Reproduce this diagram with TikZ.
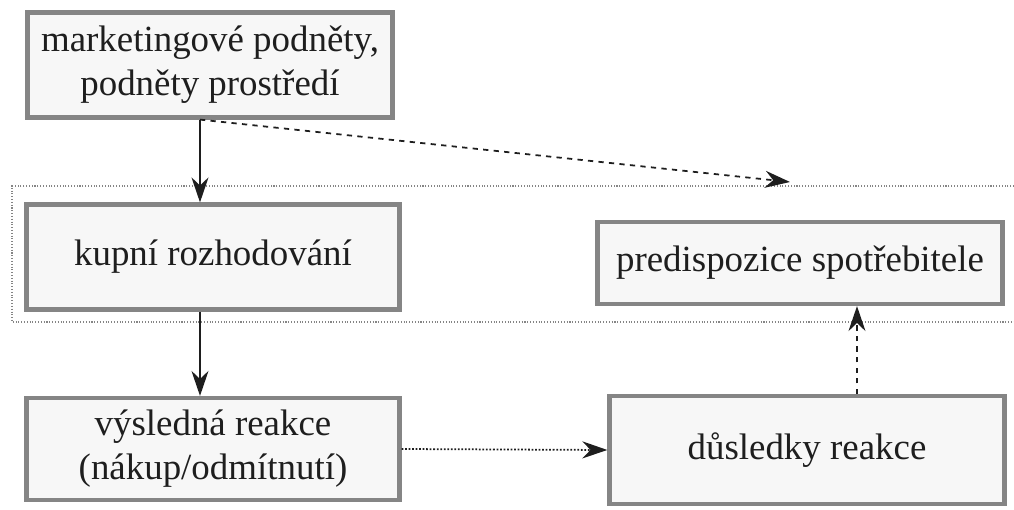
\documentclass[tikz,border=0pt]{standalone}
\usepackage{fontspec}
\setmainfont{Liberation Serif}
\usetikzlibrary{arrows.meta, positioning}
\definecolor{rim}{HTML}{858585}
\definecolor{ink}{HTML}{1E1E1E}

\begin{document}
\begin{tikzpicture}[x=0.2mm, y=-0.2mm,
    every node/.style={font=\fontsize{21}{25}\selectfont, text=ink},
    box/.style={draw=rim, line width=2.4pt, fill=gray!6, align=center, inner sep=2pt},
    flow/.style={draw=ink, line width=1pt, -{Stealth[length=5mm, width=3.4mm]}},
    maybe/.style={flow, dashed},
    weak/.style={flow, densely dotted}]

\useasboundingbox (0,0) rectangle (1014,510);

% boxes
\node[box, minimum width=73mm, minimum height=21mm] (stimuli) at (210,65) {marketingové podněty,\\podněty prostředí};
\node[box, minimum width=74.6mm, minimum height=21mm] (decision) at (213,257) {kupní rozhodování};
\node[box, minimum width=81mm, minimum height=16.4mm] (predisp) at (800,263) {predispozice spotřebitele};
\node[box, minimum width=74.6mm, minimum height=20.4mm] (response) at (213,449) {výsledná reakce\\(nákup/odmítnutí)};
\node[box, minimum width=79mm, minimum height=21.6mm] (effects) at (807,450) {důsledky reakce};

% dotted frame round the middle row
\draw[rim, densely dotted, line width=0.6pt] (1014,186) -- (12,186) -- (12,322) -- (1014,322);

% connectors
\coordinate (left axis) at (200,0);
\coordinate (right axis) at (857,0);
\coordinate (drift) at (790,182);

\draw[flow] (stimuli.south -| left axis) -- (decision.north -| left axis);
\draw[flow] (decision.south -| left axis) -- (response.north -| left axis);
\draw[maybe] (stimuli.south -| left axis) -- (drift);
\draw[weak] (response.east) -- (effects.west);
\draw[maybe] (effects.north -| right axis) -- (predisp.south -| right axis);

\end{tikzpicture}
\end{document}
